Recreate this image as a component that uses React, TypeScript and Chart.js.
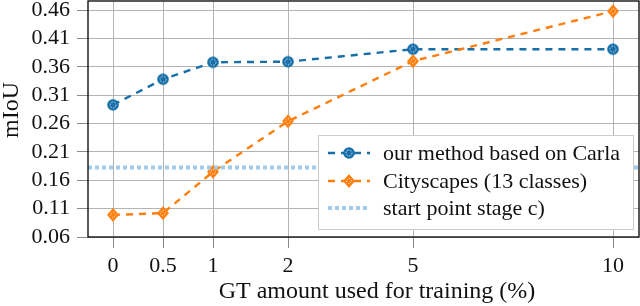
import React, { useEffect, useRef } from 'react';
import { Chart, registerables } from 'chart.js';

Chart.register(...registerables);

const categories = ['0', '0.5', '1', '2', '5', '10'];
const categoryAxisPlacement = [0, 0.5, 1, 1.75, 3, 5];
const carlaValues = [0.293, 0.338, 0.368, 0.369, 0.391, 0.391];
const cityscapesValues = [0.099, 0.102, 0.175, 0.264, 0.37, 0.458];
const startPointValue = 0.1824;
const yTickValues = [0.06, 0.11, 0.16, 0.21, 0.26, 0.31, 0.36, 0.41, 0.46];
const seriesNames = ['our method based on Carla', 'Cityscapes (13 classes)', 'start point stage c)'];

const X_MIN = -0.25;
const X_MAX = 5.26;
const Y_MIN = 0.06;
const Y_MAX = 0.476;

const BLUE = '#176fa9';
const ORANGE = '#ff7f0e';
const LIGHT = '#9fcbec';
const FONT = '"Liberation Serif", "Times New Roman", serif';

function makeCircleMarker(): HTMLCanvasElement {
  const c = document.createElement('canvas');
  c.width = 14; c.height = 14;
  const g = c.getContext('2d')!;
  g.fillStyle = BLUE;
  g.beginPath(); g.arc(7, 7, 5.8, 0, Math.PI * 2); g.fill();
  g.strokeStyle = 'rgba(255,255,255,0.75)';
  g.lineWidth = 1;
  g.setLineDash([1.6, 1.4]);
  g.beginPath(); g.arc(7, 7, 3, 0, Math.PI * 2); g.stroke();
  return c;
}

function makeDiamondMarker(): HTMLCanvasElement {
  const c = document.createElement('canvas');
  c.width = 16; c.height = 16;
  const g = c.getContext('2d')!;
  g.fillStyle = ORANGE;
  g.beginPath(); g.moveTo(8, 1); g.lineTo(14, 8); g.lineTo(8, 15); g.lineTo(2, 8); g.closePath(); g.fill();
  g.strokeStyle = 'rgba(255,255,255,0.7)';
  g.lineWidth = 1;
  g.setLineDash([1.5, 1.3]);
  g.beginPath(); g.moveTo(8, 5); g.lineTo(11, 8); g.lineTo(8, 11); g.lineTo(5, 8); g.closePath(); g.stroke();
  return c;
}

function zeroPadding(s: any) {
  s.paddingTop = 0;
  s.paddingBottom = 0;
  s.paddingLeft = 0;
  s.paddingRight = 0;
}

export default function App() {
  const ref = useRef<HTMLCanvasElement>(null);
  useEffect(() => {
    document.body.style.margin = '0';
    const circle = makeCircleMarker();
    const diamond = makeDiamondMarker();

    const overlay = {
      id: 'overlay',
      afterDraw(chart: any) {
        const { ctx, chartArea: a } = chart;
        ctx.save();
        ctx.strokeStyle = '#000';
        ctx.lineWidth = 1.3;
        ctx.setLineDash([]);
        ctx.strokeRect(a.left, a.top, a.right - a.left, a.bottom - a.top);

        const lx = 318, ly = 135, lw = 315, lh = 94;
        ctx.fillStyle = '#fff';
        ctx.fillRect(lx, ly, lw, lh);
        ctx.strokeStyle = '#cccccc';
        ctx.lineWidth = 1;
        ctx.strokeRect(lx + 0.5, ly + 0.5, lw, lh);
        const rows = [153, 181, 208];
        const x0 = 328, x1 = 370, xm = 349;
        ctx.font = `22px ${FONT}`;
        ctx.textBaseline = 'middle';
        ctx.textAlign = 'left';
        rows.forEach((ry, i) => {
          ctx.save();
          if (i < 2) {
            ctx.strokeStyle = i === 0 ? BLUE : ORANGE;
            ctx.lineWidth = 2.4;
            ctx.setLineDash([7, 6]);
            ctx.beginPath(); ctx.moveTo(x0, ry); ctx.lineTo(x1, ry); ctx.stroke();
            const img = i === 0 ? circle : diamond;
            ctx.drawImage(img, xm - img.width / 2, ry - img.height / 2);
          } else {
            ctx.strokeStyle = LIGHT;
            ctx.lineWidth = 4;
            ctx.setLineDash([4, 3]);
            ctx.beginPath(); ctx.moveTo(x0, ry); ctx.lineTo(x1, ry); ctx.stroke();
          }
          ctx.restore();
          ctx.fillStyle = '#111';
          ctx.fillText(seriesNames[i], 383, ry + 1);
        });

        ctx.fillStyle = '#111';
        ctx.font = `24px ${FONT}`;
        ctx.textAlign = 'center';
        ctx.textBaseline = 'middle';
        ctx.fillText('GT amount used for training (%)', 377, 292);
        ctx.save();
        ctx.translate(12, 110);
        ctx.rotate(-Math.PI / 2);
        ctx.fillText('mIoU', 0, 0);
        ctx.restore();
        ctx.restore();
      },
    };

    const chart = new Chart(ref.current!, {
      type: 'line',
      data: {
        datasets: [
          {
            label: seriesNames[2],
            data: [
              { x: X_MIN, y: startPointValue },
              { x: X_MAX, y: startPointValue },
            ],
            borderColor: LIGHT,
            borderWidth: 4,
            borderDash: [4, 3],
            pointRadius: 0,
            fill: false,
          },
          {
            label: seriesNames[1],
            data: categoryAxisPlacement.map((x, i) => ({ x, y: cityscapesValues[i] })),
            borderColor: ORANGE,
            borderWidth: 2.4,
            borderDash: [7, 6],
            pointStyle: diamond as any,
            pointRadius: 7,
            fill: false,
            clip: false,
          },
          {
            label: seriesNames[0],
            data: categoryAxisPlacement.map((x, i) => ({ x, y: carlaValues[i] })),
            borderColor: BLUE,
            borderWidth: 2.4,
            borderDash: [7, 6],
            pointStyle: circle as any,
            pointRadius: 7,
            fill: false,
            clip: false,
          },
        ],
      },
      options: {
        animation: false,
        responsive: false,
        devicePixelRatio: 1,
        layout: { autoPadding: false, padding: { top: 1, right: 1, left: 0, bottom: 0 } },
        plugins: { legend: { display: false }, tooltip: { enabled: false } },
        scales: {
          x: {
            type: 'linear',
            min: X_MIN,
            max: X_MAX,
            afterBuildTicks: (s: any) => {
              s.ticks = categoryAxisPlacement.map((v) => ({ value: v }));
            },
            afterFit: (s: any) => { s.height = 69; zeroPadding(s); },
            ticks: {
              autoSkip: false,
              maxRotation: 0,
              padding: 5,
              color: '#111',
              font: { family: FONT, size: 22 },
              callback: (v: any) => {
                const i = categoryAxisPlacement.indexOf(Number(v));
                return i >= 0 ? categories[i] : '';
              },
            },
            grid: { color: '#b4b4b4', lineWidth: 1, tickLength: 11, tickColor: '#8a8a8a', drawTicks: true },
            border: { display: false },
          },
          y: {
            type: 'linear',
            min: Y_MIN,
            max: Y_MAX,
            afterBuildTicks: (s: any) => {
              s.ticks = yTickValues.map((v) => ({ value: v }));
            },
            afterFit: (s: any) => { s.width = 88; zeroPadding(s); },
            ticks: {
              autoSkip: false,
              padding: 7,
              color: '#111',
              font: { family: FONT, size: 22 },
              callback: (v: any) => Number(v).toFixed(2),
            },
            grid: { color: '#b4b4b4', lineWidth: 1, tickLength: 11, tickColor: '#8a8a8a', drawTicks: true },
            border: { display: false },
          },
        },
      },
      plugins: [overlay],
    } as any);
    return () => chart.destroy();
  }, []);
  return <canvas ref={ref} width={640} height={306} style={{ display: 'block', width: 640, height: 306 }} />;
}
